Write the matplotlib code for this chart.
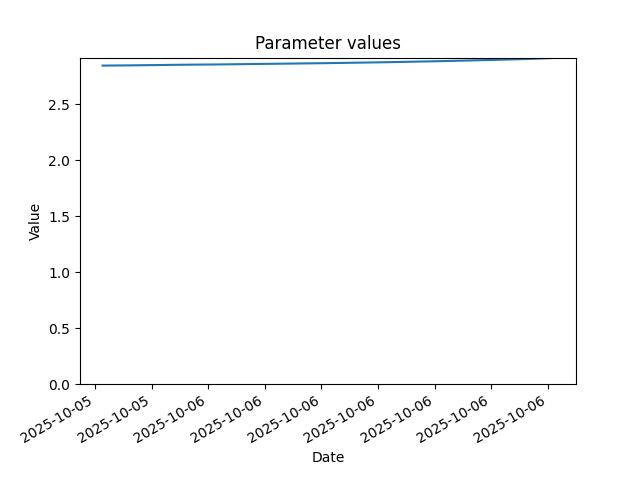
import matplotlib
matplotlib.use("Agg")
import matplotlib.pyplot as plt
import matplotlib.dates as mdates
import pandas as pd

times = pd.to_datetime([
    "2025-10-05 22:08", "2025-10-05 22:38", "2025-10-05 23:08", "2025-10-05 23:38",
    "2025-10-06 00:08", "2025-10-06 00:38", "2025-10-06 01:08", "2025-10-06 01:38",
    "2025-10-06 02:08", "2025-10-06 02:38", "2025-10-06 03:08", "2025-10-06 03:38",
    "2025-10-06 04:08", "2025-10-06 04:38", "2025-10-06 05:08", "2025-10-06 05:38",
    "2025-10-06 06:06",
])
values = [2.848, 2.850, 2.853, 2.856, 2.858, 2.861, 2.864, 2.867,
          2.870, 2.874, 2.878, 2.883, 2.888, 2.894, 2.900, 2.907, 2.916]

fig, ax = plt.subplots(figsize=(6.4, 4.8), dpi=100)
ax.plot(times, values)
ax.set_ylim(bottom=0)
ax.xaxis.set_major_formatter(mdates.DateFormatter("%Y-%m-%d"))
ax.set_title("Parameter values")
ax.set_xlabel("Date")
ax.set_ylabel("Value")
fig.autofmt_xdate()
fig.savefig("out.png", dpi=100)
